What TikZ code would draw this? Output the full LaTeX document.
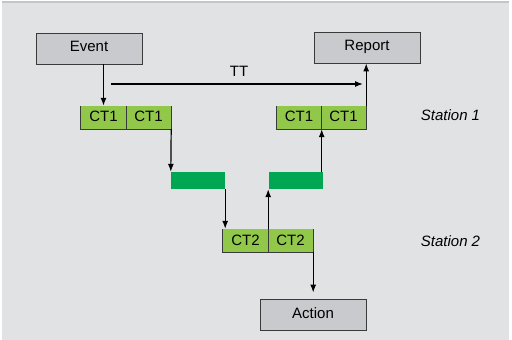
\documentclass[tikz,border=0pt]{standalone}
\usepackage{fontspec}
\setmainfont{Liberation Sans}
\usetikzlibrary{arrows.meta}
\definecolor{bgc}{HTML}{E1E2E4}
\definecolor{topbar}{HTML}{C4C5C7}
\definecolor{boxgray}{HTML}{C9CACD}
\definecolor{edge}{HTML}{3A3A3A}
\definecolor{lgreen}{HTML}{92C84A}
\definecolor{dgreen}{HTML}{00A651}
\tikzset{
  lbl/.style={font=\fontsize{15}{17}\selectfont},
  graybox/.style={lbl, draw=edge, line width=0.9pt, fill=boxgray, minimum width=106pt, minimum height=31pt, inner sep=0pt, text height=11pt, text depth=6pt},
  ctcell/.style={lbl, fill=lgreen, minimum width=45pt, minimum height=23pt, inner sep=0pt},
  bar/.style={fill=dgreen, minimum width=54pt, minimum height=17pt, inner sep=0pt},
  conn/.style={line width=1.2pt, -{Latex[length=8pt,width=6pt]}},
  celledge/.style={draw=edge, line width=0.9pt},
  station/.style={font=\fontsize{15}{17}\selectfont\itshape},
}
\begin{document}
\begin{tikzpicture}[x=1pt,y=-1pt]
\useasboundingbox (0,0) rectangle (512,340);
\fill[bgc] (2,3) rectangle (509,340);
\fill[topbar] (2,0.5) rectangle (509,3.2);
% gray boxes
\node[graybox] (ev) at (89,48.5) {Event};
\node[graybox] (rep) at (367,47.5) {Report};
\node[graybox, text depth=4pt] (act) at (313,314.5) {Action};
% CT cells
\node[ctcell, text height=11pt, text depth=4pt] (c1a) at (103.5,117.5) {CT1};
\node[ctcell, text height=11pt, text depth=4pt] (c1b) at (148.5,117.5) {CT1};
\node[ctcell, text height=11pt, text depth=4pt] (c1c) at (299,117.5) {CT1};
\node[ctcell, text height=11pt, text depth=4pt] (c1d) at (343.5,117.5) {CT1};
\node[ctcell] (c2a) at (245.5,240.5) {CT2};
\node[ctcell] (c2b) at (290.5,240.5) {CT2};
\draw[celledge] (c1a.north west) -- (c1a.south west) -- (c1b.south east) -- (c1b.north east);
\draw[celledge] (c1a.north east) -- (c1a.south east);
\draw[celledge] (c1c.north west) -- (c1c.south west) -- (c1d.south east) -- (c1d.north east);
\draw[celledge] (c1c.north east) -- (c1c.south east);
\draw[celledge] (c2a.north west) -- (c2a.south west) -- (c2b.south east) -- (c2b.north east);
\draw[celledge] (c2a.north east) -- (c2a.south east);
% bars
\node[bar] (b1) at (198,180.5) {};
\node[bar] (b2) at (296,180.5) {};
% station labels
\node[station] (s1) at (450.5,115) {Station 1};
\node[station] (s2) at (450.5,241) {Station 2};
% TT
\coordinate (tts) at (111,84);
\coordinate (tte) at (363,84);
\node[lbl, inner sep=0pt] (tt) at (239,71.5) {TT};
\draw[conn] (tts) -- (tte);
% connectors
\draw[conn] (ev.south -| c1a.north) -- (c1a.north);
\draw[conn] (c1b.south east) -- (b1.north west);
\draw[conn] (b1.south east) -- (b1.south east |- c2a.north);
\draw[conn] (c2a.north east) -- (c2a.north east |- b2.south);
\draw[conn] (c1c.south east |- b2.north) -- (c1c.south east);
\draw[conn] (c1d.north east) -- (c1d.north east |- rep.south);
\draw[conn] (c2b.south east) -- ([yshift=6pt]c2b.south east |- act.north);
\end{tikzpicture}
\end{document}
